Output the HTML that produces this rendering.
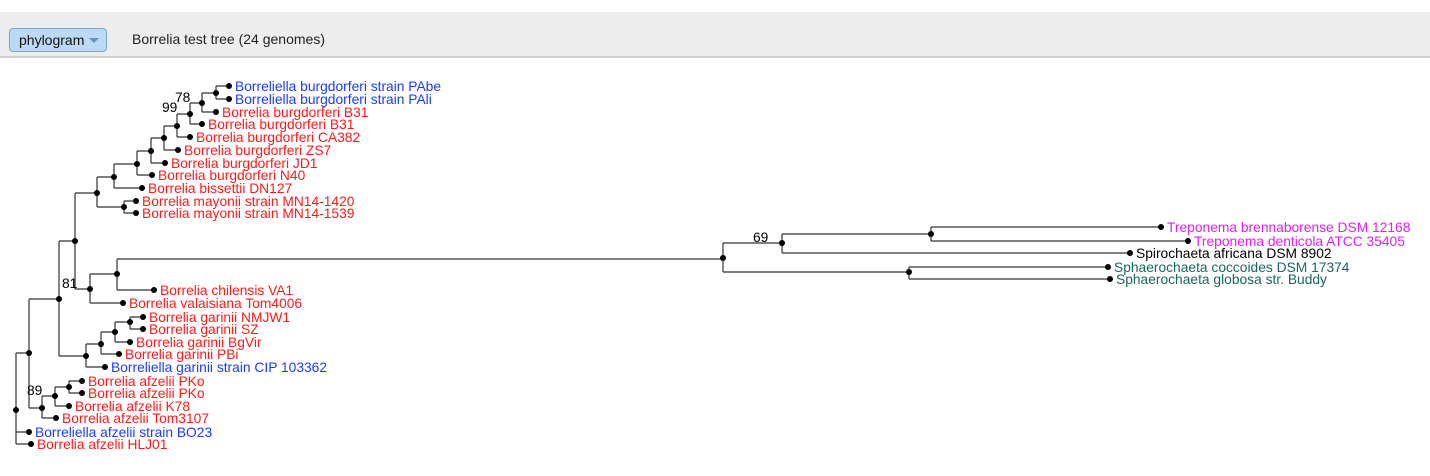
<!DOCTYPE html>
<html><head><meta charset="utf-8"><style>
html,body{margin:0;padding:0;width:1430px;height:476px;background:#fff;overflow:hidden;font-family:"Liberation Sans",Arial,sans-serif}
.bar{position:absolute;left:0;top:12px;width:1430px;height:44px;background:#ededed;border-bottom:2px solid #d0d0d0}
.btn{position:absolute;left:9px;top:16px;width:98px;height:24px;background:#bcd9f5;border:1px solid #7ea6cc;border-radius:4px;box-sizing:border-box;font-size:14px;line-height:22px;padding-left:9px;color:#111}
.btn:after{content:"";position:absolute;left:79px;top:9px;border-left:5px solid transparent;border-right:5px solid transparent;border-top:5px solid #6d8fb0}
.title{position:absolute;left:132px;top:19px;font-size:14px;color:#222}
svg{position:absolute;left:0;top:0}
</style></head><body>
<div class="bar"><div class="btn">phylogram</div><div class="title">Borrelia test tree (24 genomes)</div></div>
<svg width="1430" height="476" viewBox="0 0 1430 476">
<g stroke="#333" stroke-width="1.2" fill="none">
<path d="M216 86V99M216 86H229M216 99H229"/>
<path d="M202 93V112M202 93H216M202 112H216"/>
<path d="M190 103V124M190 103H202M190 124H202"/>
<path d="M177 114V137M177 114H190M177 137H190"/>
<path d="M164 126V150M164 126H177M164 150H178"/>
<path d="M151 138V163M151 138H164M151 163H165"/>
<path d="M137 151V175M137 151H151M137 175H152"/>
<path d="M114 164V188M114 164H137M114 188H142"/>
<path d="M124 201V213M124 201H136M124 213H136"/>
<path d="M97 177V207M97 177H114M97 207H124"/>
<path d="M75 193V289M75 193H97M75 289H90"/>
<path d="M90 274V303M90 274H117M90 303H123"/>
<path d="M117 259V290M117 259H723M117 290H154"/>
<path d="M130 317V329M130 317H143M130 329H143"/>
<path d="M115 322V342M115 322H130M115 342H130"/>
<path d="M101 332V354M101 332H115M101 354H119"/>
<path d="M86 344V367M86 344H101M86 367H105"/>
<path d="M59 241V356M59 241H75M59 356H86"/>
<path d="M69 381V393M69 381H82M69 393H82"/>
<path d="M55 387V406M55 387H69M55 406H69"/>
<path d="M42 396V418M42 396H55M42 418H56"/>
<path d="M29 299V408M29 299H59M29 408H42"/>
<path d="M16 353V444M16 353H29M16 432H29M16 444H31"/>
<path d="M723 243V272M723 243H782M723 272H909"/>
<path d="M782 234V253M782 234H931M782 253H1130"/>
<path d="M931 227V241M931 227H1161M931 241H1188"/>
<path d="M909 267V279M909 267H1108M909 279H1110"/>
</g>
<g fill="#000">
<circle cx="229" cy="86" r="3"/><circle cx="229" cy="99" r="3"/><circle cx="216" cy="112" r="3"/><circle cx="202" cy="124" r="3"/><circle cx="190" cy="137" r="3"/><circle cx="178" cy="150" r="3"/><circle cx="165" cy="163" r="3"/><circle cx="152" cy="175" r="3"/><circle cx="142" cy="188" r="3"/><circle cx="136" cy="201" r="3"/><circle cx="136" cy="213" r="3"/>
<circle cx="216" cy="93" r="3"/><circle cx="202" cy="103" r="3"/><circle cx="190" cy="114" r="3"/><circle cx="177" cy="126" r="3"/><circle cx="164" cy="138" r="3"/><circle cx="151" cy="151" r="3"/><circle cx="137" cy="164" r="3"/><circle cx="114" cy="177" r="3"/><circle cx="97" cy="193" r="3"/><circle cx="124" cy="207" r="3"/><circle cx="75" cy="241" r="3"/>
<circle cx="117" cy="274" r="3"/><circle cx="154" cy="290" r="3"/><circle cx="123" cy="303" r="3"/><circle cx="90" cy="289" r="3"/>
<circle cx="143" cy="317" r="3"/><circle cx="143" cy="329" r="3"/><circle cx="130" cy="342" r="3"/><circle cx="119" cy="354" r="3"/><circle cx="105" cy="367" r="3"/><circle cx="130" cy="322" r="3"/><circle cx="115" cy="332" r="3"/><circle cx="101" cy="344" r="3"/><circle cx="86" cy="356" r="3"/><circle cx="59" cy="299" r="3"/>
<circle cx="82" cy="381" r="3"/><circle cx="82" cy="393" r="3"/><circle cx="69" cy="406" r="3"/><circle cx="56" cy="418" r="3"/><circle cx="69" cy="387" r="3"/><circle cx="55" cy="396" r="3"/><circle cx="42" cy="408" r="3"/><circle cx="29" cy="353" r="3"/><circle cx="16" cy="410" r="3"/><circle cx="29" cy="432" r="3"/><circle cx="31" cy="444" r="3"/>
<circle cx="723" cy="258" r="3"/><circle cx="782" cy="243" r="3"/><circle cx="931" cy="234" r="3"/><circle cx="909" cy="272" r="3"/><circle cx="1161" cy="227" r="3"/><circle cx="1188" cy="241" r="3"/><circle cx="1130" cy="253" r="3"/><circle cx="1108" cy="267" r="3"/><circle cx="1110" cy="279" r="3"/>
</g>
<g font-family="Liberation Sans, Arial, sans-serif" font-size="13.8">
<g fill="#1a3cff"><text x="235" y="91">Borreliella burgdorferi strain PAbe</text><text x="235" y="104">Borreliella burgdorferi strain PAli</text><text x="111" y="372">Borreliella garinii strain CIP 103362</text><text x="35" y="437">Borreliella afzelii strain BO23</text></g>
<g fill="#ff1a1a">
<text x="222" y="117">Borrelia burgdorferi B31</text><text x="208" y="129">Borrelia burgdorferi B31</text><text x="196" y="142">Borrelia burgdorferi CA382</text><text x="184" y="155">Borrelia burgdorferi ZS7</text><text x="171" y="168">Borrelia burgdorferi JD1</text><text x="158" y="180">Borrelia burgdorferi N40</text><text x="148" y="193">Borrelia bissettii DN127</text><text x="142" y="206">Borrelia mayonii strain MN14-1420</text><text x="142" y="218">Borrelia mayonii strain MN14-1539</text>
<text x="160" y="295">Borrelia chilensis VA1</text><text x="129" y="308">Borrelia valaisiana Tom4006</text><text x="149" y="322">Borrelia garinii NMJW1</text><text x="149" y="334">Borrelia garinii SZ</text><text x="136" y="347">Borrelia garinii BgVir</text><text x="125" y="359">Borrelia garinii PBi</text>
<text x="88" y="386">Borrelia afzelii PKo</text><text x="88" y="398">Borrelia afzelii PKo</text><text x="75" y="411">Borrelia afzelii K78</text><text x="62" y="423">Borrelia afzelii Tom3107</text><text x="37" y="449">Borrelia afzelii HLJ01</text></g>
<g fill="#e020f0"><text x="1167" y="232">Treponema brennaborense DSM 12168</text><text x="1194" y="246">Treponema denticola ATCC 35405</text></g>
<text x="1136" y="258" fill="#000">Spirochaeta africana DSM 8902</text>
<g fill="#1a6660"><text x="1114" y="272">Sphaerochaeta coccoides DSM 17374</text><text x="1116" y="284">Sphaerochaeta globosa str. Buddy</text></g>
<g fill="#000"><text x="175" y="102">78</text><text x="162" y="112">99</text><text x="62" y="288">81</text><text x="27" y="395">89</text><text x="753" y="242">69</text></g>
</g>
</svg>
</body></html>
